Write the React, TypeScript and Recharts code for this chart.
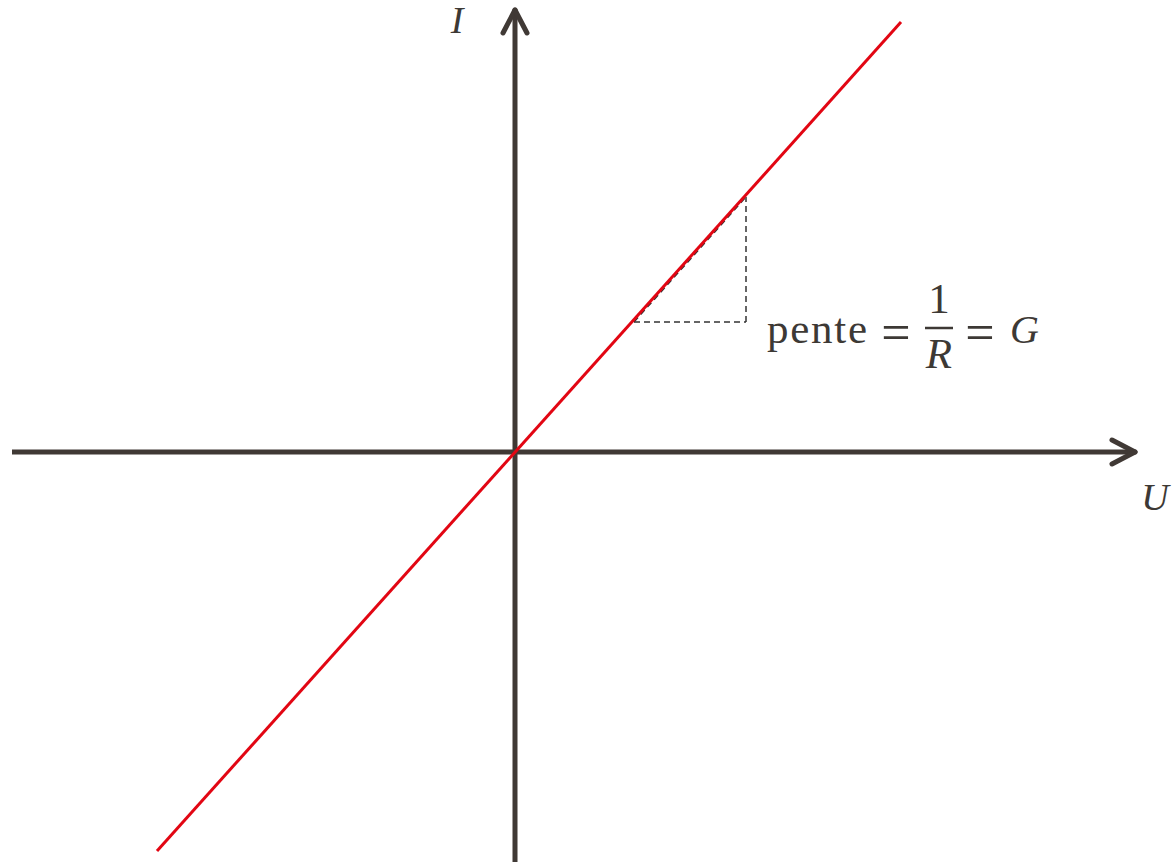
import React from 'react';
import { ComposedChart, Line, XAxis, YAxis, ReferenceLine, ReferenceDot } from 'recharts';

// U / I values, 1 unit = 100 px on the reference
const uLine = [-3.58, 3.86];
const iLine = [-3.99, 4.3];

const uDomain = [-5.15, 6.58];
const iDomain = [-4.15, 4.52];

// axis extents (arrow tips)
const uAxis = [-5.03, 6.2];
const iAxis = [-4.1, 4.42];

// slope triangle corners
const triU = [1.19, 2.31];
const triI = [1.3, 2.55];

const AXIS = '#403935';
const TEXT = '#3d3935';
const RED = '#e20613';
const FONT = '"Liberation Serif", "DejaVu Serif", serif';

const data = uLine.map((u, i) => ({ u, i: iLine[i] }));

function Formula(p: any) {
  const x = p.cx;
  const y = p.cy;
  return (
    <g fill={TEXT} fontFamily={FONT} fontSize={43}>
      <text x={x} y={y} textLength={100}>pente</text>
      <text x={x + 129} y={y + 7} textAnchor="middle" fontSize={52}>=</text>
      <text x={x + 172} y={y - 30} textAnchor="middle">1</text>
      <line x1={x + 158} x2={x + 186} y1={y - 15} y2={y - 15} stroke={TEXT} strokeWidth={2.5} />
      <text x={x + 172} y={y + 25} textAnchor="middle" fontStyle="italic">R</text>
      <text x={x + 213} y={y + 7} textAnchor="middle" fontSize={52}>=</text>
      <text x={x + 243} y={y} fontStyle="italic" fontSize={40}>G</text>
    </g>
  );
}

function italicLabel(txt: string) {
  return (p: any) => (
    <text x={p.cx} y={p.cy} textAnchor="middle" fill={TEXT} fontFamily={FONT} fontSize={38} fontStyle="italic">
      {txt}
    </text>
  );
}

export default function App() {
  const tipU = uAxis[1];
  const tipI = iAxis[1];
  return (
    <div style={{ position: 'absolute', left: 0, top: 0, background: '#fff' }}>
      <ComposedChart width={1173} height={867} data={data} margin={{ top: 0, right: 0, bottom: 0, left: 0 }}>
        <XAxis type="number" dataKey="u" domain={uDomain} hide allowDataOverflow />
        <YAxis type="number" dataKey="i" domain={iDomain} hide allowDataOverflow />

        {/* axes */}
        <ReferenceLine segment={[{ x: uAxis[0], y: 0 }, { x: tipU, y: 0 }]} stroke={AXIS} strokeWidth={5} />
        <ReferenceLine segment={[{ x: 0, y: iAxis[0] }, { x: 0, y: tipI }]} stroke={AXIS} strokeWidth={5} />
        {/* arrow heads */}
        <ReferenceLine segment={[{ x: tipU - 0.23, y: 0.12 }, { x: tipU, y: 0 }]} stroke={AXIS} strokeWidth={5} strokeLinecap="round" />
        <ReferenceLine segment={[{ x: tipU - 0.23, y: -0.12 }, { x: tipU, y: 0 }]} stroke={AXIS} strokeWidth={5} strokeLinecap="round" />
        <ReferenceLine segment={[{ x: -0.12, y: tipI - 0.23 }, { x: 0, y: tipI }]} stroke={AXIS} strokeWidth={5} strokeLinecap="round" />
        <ReferenceLine segment={[{ x: 0.12, y: tipI - 0.23 }, { x: 0, y: tipI }]} stroke={AXIS} strokeWidth={5} strokeLinecap="round" />

        {/* slope triangle */}
        <ReferenceLine segment={[{ x: triU[0], y: triI[0] }, { x: triU[1], y: triI[0] }]} stroke="#333" strokeWidth={1.5} strokeDasharray="6 4" />
        <ReferenceLine segment={[{ x: triU[1], y: triI[0] }, { x: triU[1], y: triI[1] }]} stroke="#333" strokeWidth={1.5} strokeDasharray="6 4" />
        <ReferenceLine segment={[{ x: triU[0], y: triI[0] }, { x: triU[1], y: triI[1] }]} stroke="#333" strokeWidth={1.5} strokeDasharray="6 4" />

        <Line type="linear" dataKey="i" stroke={RED} strokeWidth={3} dot={false} activeDot={false} isAnimationActive={false} />

        <ReferenceDot x={-0.58} y={4.19} r={0} shape={italicLabel('I')} />
        <ReferenceDot x={6.4} y={-0.58} r={0} shape={italicLabel('U')} />
        <ReferenceDot x={2.52} y={1.09} r={0} shape={Formula} />
      </ComposedChart>
    </div>
  );
}
